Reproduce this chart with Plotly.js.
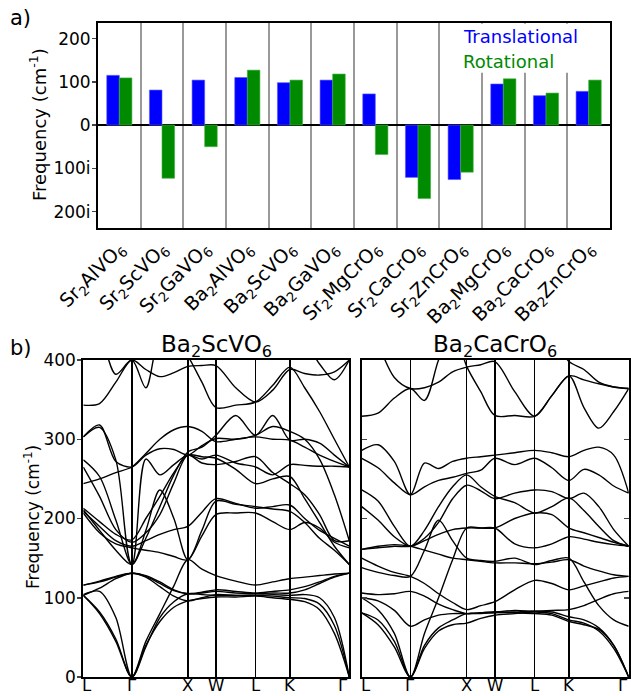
<!DOCTYPE html>
<html><head><meta charset="utf-8">
<script src="https://cdn.plot.ly/plotly-3.0.1.min.js"></script>
<style>html,body{margin:0;padding:0;background:#fff}</style>
</head><body><div id="chart" style="width:631px;height:696px"></div>
<script>
// ---------- panel a data ----------
const compounds = ['Sr<sub>2</sub>AlVO<sub>6</sub>','Sr<sub>2</sub>ScVO<sub>6</sub>','Sr<sub>2</sub>GaVO<sub>6</sub>',
  'Ba<sub>2</sub>AlVO<sub>6</sub>','Ba<sub>2</sub>ScVO<sub>6</sub>','Ba<sub>2</sub>GaVO<sub>6</sub>',
  'Sr<sub>2</sub>MgCrO<sub>6</sub>','Sr<sub>2</sub>CaCrO<sub>6</sub>','Sr<sub>2</sub>ZnCrO<sub>6</sub>',
  'Ba<sub>2</sub>MgCrO<sub>6</sub>','Ba<sub>2</sub>CaCrO<sub>6</sub>','Ba<sub>2</sub>ZnCrO<sub>6</sub>'];
const translational = [115, 81, 104, 110, 98, 104, 72, -121, -126, 95, 68, 78];
const rotational    = [109, -123, -50, 127, 104, 118, -68, -170, -109, 107, 74, 104];
const freqTickVals = [-200, -100, 0, 100, 200];
const freqTickText = ['200i', '100i', '0', '100', '200'];

// ---------- panel b data ----------
const kPath = [0, 0.29, 0.58, 0.866, 1.116, 1.366, 1.616, 1.866, 2.116, 2.366, 2.72, 3.073, 3.38, 3.685, 3.95, 4.215, 4.48, 4.746];
const symPos = [0, 0.866, 1.866, 2.366, 3.073, 3.685, 4.746];
const symLabels = ['L', 'Γ', 'X', 'W', 'L', 'K', 'Γ'];
const bandTicks = [0, 100, 200, 300, 400];

const bandsBa2ScVO6 = [
  [103, 82, 48, 0, 40, 70, 88, 96, 99, 101, 101, 102, 100, 98, 95, 85, 55, 0],
  [104, 108, 75, 0, 45, 80, 115, 148, 136, 128, 121, 116, 120, 124, 126, 128, 130, 131],
  [103, 80, 45, 0, 38, 75, 95, 105, 104, 103, 103, 103, 102, 100, 99, 92, 65, 0],
  [116, 121, 127, 131, 126, 114, 102, 96, 100, 104, 103, 103, 104, 103, 104, 100, 75, 0],
  [116, 120, 126, 131, 127, 118, 109, 105, 107, 110, 108, 106, 108, 110, 114, 120, 127, 131],
  [103, 112, 124, 131, 128, 120, 110, 105, 106, 108, 106, 105, 106, 106, 110, 118, 126, 131],
  [209, 190, 172, 165, 172, 180, 186, 190, 208, 225, 219, 213, 215, 217, 200, 185, 175, 165],
  [211, 185, 160, 142, 185, 236, 200, 148, 178, 205, 207, 207, 196, 186, 195, 188, 170, 163],
  [213, 196, 180, 173, 200, 228, 258, 280, 278, 276, 262, 244, 250, 253, 225, 195, 165, 142],
  [207, 182, 168, 163, 160, 157, 152, 148, 185, 222, 218, 215, 212, 209, 195, 175, 160, 142],
  [244, 250, 258, 265, 282, 300, 312, 316, 310, 297, 300, 303, 300, 299, 290, 280, 272, 265],
  [265, 228, 186, 170, 182, 205, 245, 280, 270, 268, 272, 278, 258, 244, 230, 205, 172, 172],
  [274, 253, 198, 142, 275, 255, 268, 280, 275, 280, 270, 265, 255, 268, 267, 266, 266, 265],
  [303, 318, 272, 265, 280, 288, 287, 280, 292, 301, 300, 305, 316, 310, 300, 275, 230, 172],
  [303, 315, 274, 142, 175, 215, 255, 284, 290, 305, 330, 305, 330, 299, 300, 295, 280, 265],
  [343, 345, 372, 400, 388, 379, 384, 392, 393, 393, 365, 347, 362, 388, 383, 381, 385, 400],
  [440, 430, 382, 400, 365, 430, 440, 440, 440, 440, 440, 440, 440, 440, 440, 440, 440, 440],
  [440, 440, 440, 440, 440, 440, 430, 405, 372, 340, 343, 347, 368, 391, 365, 335, 300, 265],
  [440, 440, 440, 440, 440, 440, 440, 440, 440, 440, 440, 440, 430, 405, 420, 395, 375, 400]
];

const bandsBa2CaCrO6 = [
  [81, 66, 38, 0, 36, 58, 66, 68, 74, 78, 80, 82, 80, 72, 68, 58, 36, 0],
  [81, 72, 45, 0, 40, 62, 72, 80, 80, 81, 82, 83, 82, 76, 72, 62, 40, 0],
  [100, 85, 55, 0, 55, 100, 148, 188, 188, 188, 168, 163, 168, 177, 174, 170, 167, 165],
  [106, 104, 105, 108, 102, 92, 85, 80, 81, 82, 84, 83, 84, 85, 90, 98, 105, 108],
  [100, 96, 84, 64, 72, 78, 80, 80, 81, 82, 81, 80, 78, 70, 66, 60, 40, 0],
  [138, 132, 128, 127, 160, 198, 172, 150, 147, 146, 150, 142, 147, 150, 120, 90, 72, 64],
  [150, 140, 132, 127, 118, 105, 94, 85, 90, 95, 110, 122, 118, 110, 115, 120, 125, 127],
  [161, 163, 165, 165, 175, 195, 225, 242, 235, 225, 232, 236, 234, 225, 232, 215, 186, 165],
  [161, 165, 167, 165, 160, 155, 150, 148, 146, 144, 144, 143, 145, 148, 140, 134, 129, 127],
  [215, 198, 177, 165, 172, 180, 186, 188, 188, 188, 200, 207, 205, 188, 182, 176, 170, 165],
  [236, 222, 190, 165, 185, 215, 240, 255, 240, 228, 220, 207, 215, 226, 210, 190, 172, 165],
  [286, 293, 272, 230, 270, 263, 272, 276, 278, 280, 283, 286, 283, 278, 286, 290, 280, 232],
  [276, 264, 245, 230, 240, 248, 252, 257, 261, 276, 268, 276, 264, 248, 262, 255, 241, 232],
  [329, 333, 352, 364, 349, 400, 440, 440, 440, 440, 440, 440, 440, 440, 440, 440, 440, 440],
  [460, 420, 378, 364, 365, 372, 385, 391, 394, 398, 360, 329, 355, 380, 375, 370, 366, 364],
  [440, 440, 440, 440, 440, 440, 440, 392, 360, 330, 330, 329, 355, 380, 340, 314, 335, 364],
  [440, 440, 440, 440, 440, 440, 440, 440, 440, 440, 440, 440, 430, 398, 388, 372, 366, 364]
];

// ---------- build ----------
const W = 631, H = 696;
const px = v => v / W, py = v => 1 - v / H;
const FONT = 'DejaVu Sans';

const traces = [
  {type:'bar', x: compounds, y: translational, name:'Translational', marker:{color:'#0000ff', line:{color:'#5a5aff', width:0.6}}, xaxis:'x', yaxis:'y', showlegend:false, hoverinfo:'skip'},
  {type:'bar', x: compounds, y: rotational, name:'Rotational', marker:{color:'#008a00', line:{color:'#44b044', width:0.6}}, xaxis:'x', yaxis:'y', showlegend:false, hoverinfo:'skip'}
];
function addBands(bands, xa, ya) {
  bands.forEach(b => traces.push({type:'scatter', mode:'lines', x:kPath, y:b, xaxis:xa, yaxis:ya,
    line:{color:'#000', width:1.4, shape:'spline', smoothing:0.9}, showlegend:false, hoverinfo:'skip'}));
}
addBands(bandsBa2ScVO6, 'x2', 'y2');
addBands(bandsBa2CaCrO6, 'x3', 'y3');

const tickFont = {family:FONT, size:17, color:'#000'};
const bandX = dom => ({domain:dom, range:[0, 4.746], tickvals:symPos, showticklabels:false, showgrid:true,
  gridcolor:'#000', gridwidth:1.5, showline:true, mirror:true, linecolor:'#000', linewidth:2, ticks:'',
  zeroline:false, fixedrange:true});

const annotations = [
  {text:'a)', xref:'paper', yref:'paper', x:px(8), y:py(18), xanchor:'left', yanchor:'middle', showarrow:false, font:{family:FONT, size:21}},
  {text:'b)', xref:'paper', yref:'paper', x:px(8), y:py(348), xanchor:'left', yanchor:'middle', showarrow:false, font:{family:FONT, size:21}},
  {text:'Frequency (cm<sup>-1</sup>)', xref:'paper', yref:'paper', x:px(38), y:py(125), xanchor:'center', yanchor:'middle', textangle:-90, showarrow:false, font:{family:FONT, size:18}},
  {text:'Frequency (cm<sup>-1</sup>)', xref:'paper', yref:'paper', x:px(32), y:py(517), xanchor:'center', yanchor:'middle', textangle:-90, showarrow:false, font:{family:FONT, size:17}},
  {text:'Translational', xref:'paper', yref:'paper', x:px(461), y:py(37), xanchor:'left', yanchor:'middle', showarrow:false, font:{family:FONT, size:18, color:'#0000ff'}},
  {text:'Rotational', xref:'paper', yref:'paper', x:px(461), y:py(62), xanchor:'left', yanchor:'middle', showarrow:false, font:{family:FONT, size:18, color:'#008a00'}},
  {text:'Ba<sub>2</sub>ScVO<sub>6</sub>', xref:'paper', yref:'paper', x:px(216), y:py(346), xanchor:'center', yanchor:'middle', showarrow:false, font:{family:FONT, size:23}},
  {text:'Ba<sub>2</sub>CaCrO<sub>6</sub>', xref:'paper', yref:'paper', x:px(495), y:py(346), xanchor:'center', yanchor:'middle', showarrow:false, font:{family:FONT, size:23}}
];
// high-symmetry point labels under both band panels
['x2', 'x3'].forEach(xa => symPos.forEach((k, i) => annotations.push({
  text: symLabels[i], xref: xa, yref:'paper', x:k, y:py(685.5), yanchor:'middle',
  xanchor: i === 0 ? 'left' : (i === symPos.length - 1 ? 'right' : 'center'),
  xshift: i === 0 ? -2 : 0,
  showarrow:false, font:{family:FONT, size:16.5}, borderpad:0
})));

const layout = {
  width:W, height:H, margin:{l:0, r:0, t:0, b:0}, paper_bgcolor:'#fff', plot_bgcolor:'#fff',
  font:{family:FONT, color:'#000'},
  barmode:'group', bargap:0.41, bargroupgap:0,
  xaxis:{domain:[px(98), px(610)], type:'category', tickson:'boundaries', showgrid:true, gridcolor:'#999', gridwidth:2,
    ticks:'', tickangle:-45, tickfont:{family:FONT, size:19, color:'#000'}, showline:true, mirror:true, linecolor:'#000', linewidth:2, anchor:'y'},
  yaxis:{domain:[py(228), py(23)], range:[-238, 236], tickvals:freqTickVals, ticktext:freqTickText, ticks:'outside', ticklen:4, tickwidth:1.5,
    ticklabelstandoff:-2, tickfont:tickFont, showgrid:false, zeroline:true, zerolinecolor:'#000', zerolinewidth:2.2, showline:true, mirror:true, linecolor:'#000', linewidth:2, anchor:'x'},
  yaxis5:{overlaying:'y', side:'right', anchor:'x', range:[-238, 236], tickvals:freqTickVals, ticks:'inside', ticklen:5, tickwidth:1.5, showticklabels:false, showgrid:false, zeroline:false},
  xaxis2: Object.assign(bandX([px(83.3), px(349.3)]), {anchor:'y2'}),
  yaxis2:{domain:[py(677), py(360)], range:[0, 400], tickvals:bandTicks, ticks:'outside', ticklen:4, tickwidth:1.5,
    ticklabelstandoff:-2, tickfont:tickFont, showgrid:false, zeroline:false, showline:true, mirror:true, linecolor:'#000', linewidth:2, anchor:'x2'},
  yaxis6:{overlaying:'y2', side:'right', anchor:'x2', range:[0,400], tickvals:bandTicks, ticks:'inside', ticklen:5, tickwidth:1.5, showticklabels:false, showgrid:false, zeroline:false},
  xaxis3: Object.assign(bandX([px(361.7), px(628.7)]), {anchor:'y3'}),
  yaxis3:{domain:[py(677), py(360)], range:[0, 400], tickvals:bandTicks, ticks:'inside', ticklen:5, tickwidth:1.5,
    showticklabels:false, showgrid:false, zeroline:false, showline:true, mirror:'ticks', linecolor:'#000', linewidth:2, anchor:'x3'},
  shapes:[
    {type:'rect', xref:'x', yref:'y', x0:8.1, x1:11.3, y0:121, y1:234, fillcolor:'#fff', line:{width:0}, layer:'above'}
  ],
  annotations: annotations
};
Plotly.newPlot('chart', traces, layout, {staticPlot:true, displayModeBar:false});
</script></body></html>
